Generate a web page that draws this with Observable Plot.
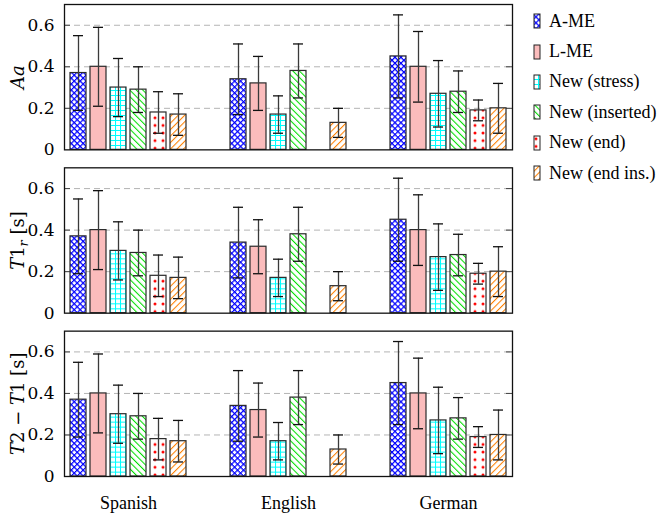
<!DOCTYPE html>
<html><head><meta charset="utf-8">
<script src="https://cdn.jsdelivr.net/npm/d3@7"></script>
<script src="https://cdn.jsdelivr.net/npm/@observablehq/plot@0.6"></script>
<style>
body{margin:0;background:#fff;}
#wrap{position:relative;width:662px;height:516px;overflow:hidden;}
#legend{position:absolute;left:533px;top:6px;font-size:18px;color:#000;}
.item{display:flex;align-items:center;height:30.4px;white-space:nowrap;}
.item svg{margin-right:8px;display:block;}
#defs{position:absolute;width:0;height:0;}
</style></head><body>
<svg id="defs" width="0" height="0">
 <defs>
  <pattern id="pat0" width="4.2" height="4.2" patternUnits="userSpaceOnUse" patternTransform="rotate(45)">
   <rect width="4.2" height="4.2" fill="#fff"/><path d="M0,0.6H4.2M0.6,0V4.2" stroke="#0000ff" stroke-width="1.2"/>
  </pattern>
  <pattern id="pat1" width="4" height="4" patternUnits="userSpaceOnUse">
   <rect width="4" height="4" fill="#fbbcbc"/>
  </pattern>
  <pattern id="pat2" width="5" height="5" patternUnits="userSpaceOnUse">
   <rect width="5" height="5" fill="#fff"/><path d="M0,0.5H5M0.5,0V5" stroke="#00ffff" stroke-width="1.1"/>
  </pattern>
  <pattern id="pat3" width="4.6" height="4.6" patternUnits="userSpaceOnUse" patternTransform="rotate(-45)">
   <rect width="4.6" height="4.6" fill="#fff"/><path d="M0.5,0V4.6" stroke="#00e000" stroke-width="1.1"/>
  </pattern>
  <pattern id="pat4" width="8" height="7.6" patternUnits="userSpaceOnUse">
   <rect width="8" height="7.6" fill="#fff"/><circle cx="3" cy="3.8" r="1.5" fill="#ff0000"/>
  </pattern>
  <pattern id="pat5" width="4.6" height="4.6" patternUnits="userSpaceOnUse" patternTransform="rotate(45)">
   <rect width="4.6" height="4.6" fill="#fff"/><path d="M0.5,0V4.6" stroke="#ff8000" stroke-width="1.1"/>
  </pattern>
 </defs>
</svg>
<div id="wrap"><div id="chart"></div><div id="legend"></div></div>
<script>
// ---- data ----
const languages = ["Spanish", "English", "German"];
const series = ["A-ME", "L-ME", "New (stress)", "New (inserted)", "New (end)", "New (end ins.)"];
const panels = ["Aa", "T1r [s]", "T2 − T1 [s]"];
const yTicks = [0, 0.2, 0.4, 0.6];

const valSpanish  = [0.37, 0.40, 0.30, 0.29, 0.18, 0.17];
const lowSpanish  = [0.19, 0.21, 0.16, 0.18, 0.08, 0.07];
const highSpanish = [0.55, 0.59, 0.44, 0.40, 0.28, 0.27];

const valEnglish  = [0.34, 0.32, 0.17, 0.38, 0.00, 0.13];
const lowEnglish  = [0.17, 0.19, 0.08, 0.25, null, 0.06];
const highEnglish = [0.51, 0.45, 0.26, 0.51, null, 0.20];

const valGerman   = [0.45, 0.40, 0.27, 0.28, 0.19, 0.20];
const lowGerman   = [0.25, 0.23, 0.11, 0.18, 0.14, 0.08];
const highGerman  = [0.65, 0.57, 0.43, 0.38, 0.24, 0.32];

const byLang = {
  Spanish: [valSpanish, lowSpanish, highSpanish],
  English: [valEnglish, lowEnglish, highEnglish],
  German:  [valGerman, lowGerman, highGerman]
};

// ---- font detection (pick an installed serif face) ----
function hasFont(name) {
  const c = document.createElement("canvas").getContext("2d");
  const s = "New (inserted) 0.6 Spanish AaWwMm";
  const out = [];
  for (const base of ["monospace", "sans-serif"]) {
    c.font = "40px " + base; const w0 = c.measureText(s).width;
    c.font = `40px "${name}", ${base}`; const w1 = c.measureText(s).width;
    out.push(Math.abs(w0 - w1) > 0.5);
  }
  return out[0] || out[1];
}
function pick(list, fallback) { for (const f of list) if (hasFont(f)) return `"${f}"`; return fallback; }
const textFont = pick(["Liberation Serif", "Times New Roman", "Tinos", "Nimbus Roman", "FreeSerif", "DejaVu Serif", "Noto Serif"], "serif");
const mathFont = pick(["DejaVu Serif", "Latin Modern Roman", "Liberation Serif", "Times New Roman", "Noto Serif"], "serif");
document.getElementById("legend").style.fontFamily = textFont;

const rows = [];
for (const p of panels) for (const l of languages) series.forEach((s, i) => {
  const [v, lo, hi] = byLang[l];
  rows.push({panel: p, lang: l, series: s, key: l + "|" + s, value: v[i], lo: lo[i], hi: hi[i]});
});
const errRows = rows.filter(d => d.lo != null);

// band domain: six bars per language, two empty slots between languages
const xDomain = [];
languages.forEach((l, i) => {
  series.forEach(s => xDomain.push(l + "|" + s));
  if (i < languages.length - 1) xDomain.push("gap" + i + "a", "gap" + i + "b");
});
const patterns = series.map((s, i) => `url(#pat${i})`);

const plot = Plot.plot({
  width: 662, height: 516,
  marginLeft: 64, marginRight: 150, marginTop: 4, marginBottom: 40,
  style: {fontFamily: mathFont, background: "white", color: "black", overflow: "visible"},
  x: {domain: xDomain, paddingInner: 0.2, paddingOuter: 0.3, round: false, axis: null},
  y: {domain: [0, 0.7], axis: null},
  fy: {domain: panels, paddingInner: 0.11, paddingOuter: 0, round: false, axis: null},
  color: {domain: series, range: patterns},
  marks: [
    Plot.gridY(yTicks.filter(t => t > 0), {stroke: "#b4b4b4", strokeOpacity: 1, strokeWidth: 1, strokeDasharray: "6,4"}),
    Plot.ruleY(yTicks.filter(t => t > 0), {insetLeft: 442, stroke: "#444", strokeWidth: 1}),
    Plot.ruleY(yTicks.filter(t => t > 0), {insetRight: 442, stroke: "#444", strokeWidth: 1}),
    Plot.barY(rows, {x: "key", y: "value", fy: "panel", fill: "series", stroke: "#2a2a2a", strokeWidth: 1.2}),
    Plot.ruleX(errRows, {x: "key", y1: "lo", y2: "hi", fy: "panel", stroke: "#3a3a3a", strokeWidth: 1.3}),
    Plot.tickY(errRows, {x: "key", y: "lo", fy: "panel", inset: 3, stroke: "#111", strokeWidth: 1.3}),
    Plot.tickY(errRows, {x: "key", y: "hi", fy: "panel", inset: 3, stroke: "#111", strokeWidth: 1.3}),
    Plot.frame({stroke: "#111", strokeWidth: 1.3}),
    Plot.axisY(yTicks, {tickSize: 0, tickPadding: 10, fontSize: 17, fontFamily: mathFont,
      tickFormat: d => d === 0 ? "0" : d3.format(".1f")(d), label: null}),
    Plot.text(languages, {x: l => l + "|" + series[2], fy: () => panels[2], text: d => d, dx: 10,
      frameAnchor: "bottom", lineAnchor: "middle", textAnchor: "middle", dy: 27,
      fontSize: 18, fontFamily: textFont, fill: "#000"}),
    Plot.text(panels, {fy: d => d, text: d => d, frameAnchor: "left", textAnchor: "middle", lineAnchor: "middle",
      rotate: -90, dx: -46, fontSize: 18, fontFamily: mathFont, fontStyle: "italic", fill: "#000"})
  ]
});
document.getElementById("chart").appendChild(plot);

// rich math formatting of the y-axis titles
const it = t => `<tspan font-style="italic">${t}</tspan>`;
const up = t => `<tspan font-style="normal">${t}</tspan>`;
const rich = {
  "Aa": it("Aa"),
  "T1r [s]": it("T") + up("1") + `<tspan font-style="italic" font-size="13" dy="4">r</tspan>` + `<tspan font-style="normal" dy="-4"> [s]</tspan>`,
  "T2 − T1 [s]": it("T") + up("2 − ") + it("T") + up("1 [s]")
};
plot.querySelectorAll("text").forEach(t => {
  const k = t.textContent;
  if (rich[k]) { t.innerHTML = rich[k]; t.style.whiteSpace = "pre"; }
});

// legend
const leg = document.getElementById("legend");
series.forEach((s, i) => {
  const div = document.createElement("div");
  div.className = "item";
  div.innerHTML = `<svg width="8" height="16"><rect x="1" y="1" width="6" height="14" fill="${patterns[i]}" stroke="#222" stroke-width="1"/></svg><span>${s}</span>`;
  leg.appendChild(div);
});
</script>
</body></html>
